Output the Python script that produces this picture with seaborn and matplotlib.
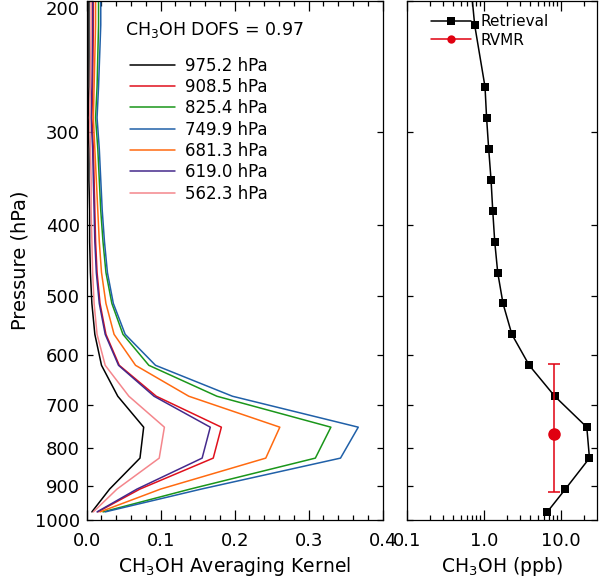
import numpy as np
import pandas as pd
import matplotlib
matplotlib.use('Agg')
import matplotlib.pyplot as plt
import seaborn as sns
from matplotlib.ticker import FixedLocator, NullLocator, MultipleLocator, FormatStrFormatter
from matplotlib.lines import Line2D

# retrieval pressure grid (hPa), surface upward
pressure = [975.2, 908.5, 825.4, 749.9, 681.3, 619.0, 562.3, 510.9, 464.2,
            421.7, 383.1, 348.1, 316.2, 287.3, 261.0, 215.4, 177.8]

# averaging kernel rows
kernel_labels = ['975.2 hPa', '908.5 hPa', '825.4 hPa', '749.9 hPa',
                 '681.3 hPa', '619.0 hPa', '562.3 hPa']
kernel_colors = ['#000000', '#e0101c', '#1a961a', '#2060a8',
                 '#ff6a10', '#452a8c', '#f4868c']
ak_975 = [0.007, 0.031, 0.072, 0.077, 0.042, 0.020, 0.011, 0.007, 0.005,
          0.004, 0.004, 0.003, 0.003, 0.002, 0.003, 0.003, 0.003]
ak_908 = [0.015, 0.072, 0.171, 0.182, 0.094, 0.044, 0.026, 0.018, 0.014,
          0.012, 0.011, 0.010, 0.009, 0.007, 0.008, 0.009, 0.009]
ak_825 = [0.022, 0.140, 0.309, 0.330, 0.176, 0.084, 0.049, 0.034, 0.026,
          0.022, 0.019, 0.017, 0.015, 0.012, 0.014, 0.016, 0.016]
ak_750 = [0.025, 0.155, 0.343, 0.367, 0.197, 0.093, 0.052, 0.036, 0.028,
          0.024, 0.021, 0.019, 0.017, 0.014, 0.016, 0.019, 0.019]
ak_681 = [0.018, 0.100, 0.242, 0.261, 0.138, 0.066, 0.037, 0.026, 0.020,
          0.017, 0.015, 0.013, 0.011, 0.009, 0.010, 0.012, 0.012]
ak_619 = [0.014, 0.068, 0.156, 0.167, 0.091, 0.043, 0.025, 0.017, 0.013,
          0.011, 0.010, 0.009, 0.008, 0.006, 0.007, 0.008, 0.008]
ak_562 = [0.009, 0.041, 0.098, 0.105, 0.057, 0.025, 0.014, 0.010, 0.008,
          0.007, 0.006, 0.006, 0.005, 0.004, 0.005, 0.006, 0.006]
dofs = 0.97

# retrieved CH3OH profile (ppb)
retrieval = [6.7, 11.5, 23.6, 21.8, 8.36, 3.9, 2.32, 1.78, 1.52,
             1.39, 1.31, 1.245, 1.16, 1.09, 1.04, 0.763, 0.64]

# RVMR value and its pressure range
rvmr_p = 766.0
rvmr_val = 8.1
rvmr_p_top = 616.0
rvmr_p_bottom = 918.0

yticks = [200, 300, 400, 500, 600, 700, 800, 900, 1000]

ak_rows = [ak_975, ak_908, ak_825, ak_750, ak_681, ak_619, ak_562]
ak_df = pd.concat([pd.DataFrame({'level': lab, 'ak': row, 'pressure': pressure})
                   for lab, row in zip(kernel_labels, ak_rows)], ignore_index=True)
ret_df = pd.DataFrame({'vmr': retrieval, 'pressure': pressure})

sns.set_theme(style='ticks')
plt.rcParams['font.family'] = ['DejaVu Sans']
plt.rcParams['axes.linewidth'] = 0.9
plt.rcParams['axes.edgecolor'] = 'black'
plt.rcParams['text.color'] = 'black'
plt.rcParams['axes.labelcolor'] = 'black'
plt.rcParams['xtick.color'] = 'black'
plt.rcParams['ytick.color'] = 'black'

fig = plt.figure(figsize=(6, 5.84), dpi=100)
ax1 = fig.add_axes([0.1445, 0.1096, 0.4933, 0.8887])
ax2 = fig.add_axes([0.6778, 0.1096, 0.318, 0.8887])

# left: averaging kernels
sns.lineplot(data=ak_df, x='ak', y='pressure', hue='level', hue_order=kernel_labels,
             palette=kernel_colors, sort=False, estimator=None, lw=1.1,
             legend=False, ax=ax1)
ax1.text(0.129, 0.944, r'CH$_3$OH DOFS = %.2f' % dofs, transform=ax1.transAxes,
         fontsize=12.5, va='center', ha='left')
handles = [Line2D([], [], color=c, lw=1.1) for c in kernel_colors]
ax1.legend(handles, kernel_labels, loc='upper left', bbox_to_anchor=(0.145, 0.893),
           frameon=False, fontsize=12, handlelength=2.7, handletextpad=0.65,
           labelspacing=0.2, borderpad=0, borderaxespad=0)

# right: retrieval and RVMR
sns.lineplot(data=ret_df, x='vmr', y='pressure', sort=False, estimator=None,
             color='black', lw=1.1, marker='s', markersize=6, markeredgewidth=0,
             ax=ax2)
ax2.errorbar([rvmr_val], [rvmr_p],
             yerr=[[rvmr_p - rvmr_p_top], [rvmr_p_bottom - rvmr_p]],
             fmt='o', color='#e00010', markersize=8, elinewidth=1.1,
             capsize=4, capthick=1.1)
leg_h = [Line2D([], [], color='black', lw=1.1, marker='s', markersize=6, markeredgewidth=0),
         Line2D([], [], color='#e00010', lw=1.1, marker='o', markersize=6, markeredgewidth=0)]
ax2.legend(leg_h, ['Retrieval', 'RVMR'], loc='upper left', bbox_to_anchor=(0.13, 0.975),
           frameon=False, fontsize=11, handlelength=2.6, handletextpad=0.6,
           labelspacing=0.25, borderpad=0, borderaxespad=0, numpoints=1)

for ax in (ax1, ax2):
    ax.set_yscale('log')
    ax.set_ylim(1000, 200)
    ax.yaxis.set_major_locator(FixedLocator(yticks))
    ax.yaxis.set_minor_locator(NullLocator())
    ax.tick_params(which='both', direction='in', top=True, right=True,
                   width=0.9, color='black', labelcolor='black', labelsize=13)
    ax.tick_params(axis='x', which='major', length=7, pad=9)
    ax.tick_params(axis='x', which='minor', length=3.6)
    ax.tick_params(axis='y', which='major', length=4.5, pad=5)

ax1.yaxis.set_major_formatter(FormatStrFormatter('%d'))
ax1.set_xlim(0, 0.4)
ax1.xaxis.set_major_locator(MultipleLocator(0.1))
ax1.xaxis.set_minor_locator(MultipleLocator(0.02))
ax1.xaxis.set_major_formatter(FormatStrFormatter('%.1f'))
ax1.set_xlabel(r'CH$_3$OH Averaging Kernel', fontsize=13.5, labelpad=3)
ax1.set_ylabel('Pressure (hPa)', fontsize=14, labelpad=4)
ax1.yaxis.get_major_ticks()[0].label1.set_va('top')

ax2.set_xscale('log')
ax2.set_xlim(0.1, 30)
ax2.xaxis.set_major_locator(FixedLocator([0.1, 1, 10]))
ax2.xaxis.set_minor_locator(FixedLocator([0.2, 0.3, 0.4, 0.5, 0.6, 0.7, 0.8, 0.9,
                                          2, 3, 4, 5, 6, 7, 8, 9, 20]))
ax2.xaxis.set_major_formatter(FormatStrFormatter('%.1f'))
ax2.tick_params(axis='y', labelleft=False)
ax2.set_xlabel(r'CH$_3$OH (ppb)', fontsize=13.5, labelpad=3)
ax2.set_ylabel('')

fig.savefig('out.png', dpi=100)
